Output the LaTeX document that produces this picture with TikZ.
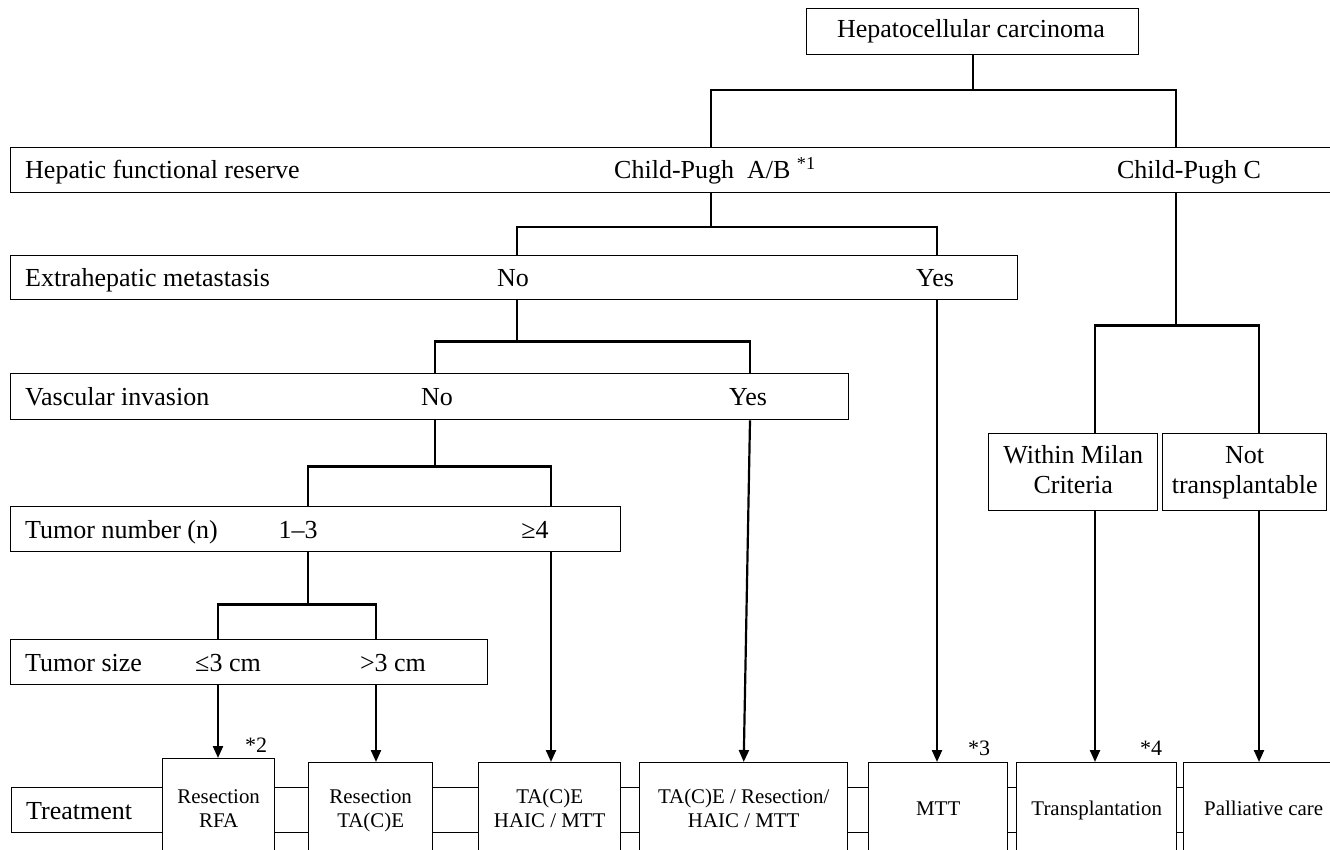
\documentclass[tikz,border=0pt]{standalone}
\usepackage{fontspec}
\setmainfont{Liberation Serif}
\usepackage{tikz}
\usetikzlibrary{arrows.meta, positioning}

\begin{document}
\begin{tikzpicture}[x=1pt, y=-1pt, >={Triangle[length=12pt, width=10pt]},
    rowbox/.style={draw, line width=1.4pt, inner sep=0pt, anchor=north west, fill=white},
    txbox/.style={rowbox, align=center, font=\fontsize{20.9}{24}\selectfont},
    rowtxt/.style={inner sep=0pt, font=\fontsize{26}{30}\selectfont},
    cuetxt/.style={inner sep=0pt, font=\fontsize{22}{26}\selectfont},
    branch/.style={line width=2.2pt}]
  \path[use as bounding box, clip] (0,0) rectangle (1330,850);

  % rows of the decision tree
  \node[rowbox, minimum width=332pt, minimum height=46pt] (hcc) at (806,8) {};
  \node[rowbox, minimum width=1326pt, minimum height=45pt] (hfr) at (10,147) {};
  \node[rowbox, minimum width=1007pt, minimum height=44pt] (ehm) at (10,255) {};
  \node[rowbox, minimum width=838pt, minimum height=46pt] (vi) at (10,373) {};
  \node[rowbox, minimum width=610pt, minimum height=45pt] (tn) at (10,506) {};
  \node[rowbox, minimum width=477pt, minimum height=45pt] (ts) at (10,639) {};
  \node[rowbox, minimum width=1240pt, minimum height=45pt] (trt) at (11,787) {};

  \node[rowtxt] (hccL) at (971,31) {Hepatocellular carcinoma};
  \node[rowtxt, anchor=base west] (hfrL) at (25,179) {Hepatic functional reserve};
  \node[rowtxt, anchor=base west] (cpab) at (614,179) {Child-Pugh~ A/B \textsuperscript{*1}};
  \node[rowtxt, anchor=base] (cpc) at (1189,179) {Child-Pugh C};
  \node[rowtxt, anchor=base west] (ehmL) at (25,286.5) {Extrahepatic metastasis};
  \node[rowtxt, anchor=base] (ehmNo) at (513,286.5) {No};
  \node[rowtxt, anchor=base] (ehmYes) at (935,286.5) {Yes};
  \node[rowtxt, anchor=base west] (viL) at (25,405.5) {Vascular invasion};
  \node[rowtxt, anchor=base] (viNo) at (437,405.5) {No};
  \node[rowtxt, anchor=base] (viYes) at (748,405.5) {Yes};
  \node[rowtxt, anchor=base west] (tnL) at (25,538) {Tumor number (n)};
  \node[rowtxt, anchor=base] (tnLow) at (298,538) {1–3};
  \node[rowtxt, anchor=base] (tnHigh) at (535,538) {≥4};
  \node[rowtxt, anchor=base west] (tsL) at (25,671) {Tumor size};
  \node[rowtxt, anchor=base] (tsSmall) at (228,671) {≤3 cm};
  \node[rowtxt, anchor=base] (tsLarge) at (393,671) {>3 cm};
  \node[rowtxt, anchor=base west] (trtL) at (26,819) {Treatment};

  % Child-Pugh C side
  \node[rowbox, minimum width=169pt, minimum height=77pt, align=center,
    font=\fontsize{26}{30}\selectfont] (milan) at (988,433) {Within Milan\strut\\Criteria\strut};
  \node[rowbox, minimum width=164pt, minimum height=77pt, align=center,
    font=\fontsize{26}{30}\selectfont] (notx) at (1162,433) {Not\strut\\transplantable\strut};

  % treatments
  \node[txbox, minimum width=112pt, minimum height=104pt] (rfa) at (162,758) {Resection\strut\\RFA\strut};
  \node[txbox, minimum width=124pt, minimum height=96pt] (rtace) at (308,762) {Resection\strut\\TA(C)E\strut};
  \node[txbox, minimum width=142pt, minimum height=96pt] (tace) at (478,762) {TA(C)E\strut\\HAIC / MTT\strut};
  \node[txbox, minimum width=208pt, minimum height=96pt] (mix) at (639,762) {TA(C)E / Resection/\strut\\HAIC / MTT\strut};
  \node[txbox, minimum width=139pt, minimum height=96pt] (mtt) at (868,762) {MTT\strut};
  \node[txbox, minimum width=160pt, minimum height=96pt] (tx) at (1016,762) {Transplantation\strut};
  \node[txbox, minimum width=160pt, minimum height=96pt] (pal) at (1183,762) {Palliative care\strut};

  \node[cuetxt] (n2) at (256,745) {*2};
  \node[cuetxt] (n3) at (979,748) {*3};
  \node[cuetxt] (n4) at (1151,748) {*4};

  % branch positions
  \coordinate (xab) at (711,0);
  \coordinate (xc) at (1176,0);
  \coordinate (xno1) at (517,0);
  \coordinate (xyes1) at (937,0);
  \coordinate (xno2) at (435,0);
  \coordinate (xyes2) at (750,0);
  \coordinate (xn13) at (308,0);
  \coordinate (xn4) at (551,0);
  \coordinate (xs3) at (218,0);
  \coordinate (xl3) at (376,0);
  \coordinate (xwm) at (1095,0);
  \coordinate (xnt) at (1259,0);

  % forks
  \draw[branch] (hcc.south) -- ++(0,35) coordinate (f1);
  \draw[branch] (xab |- hfr.north) |- (f1) -| (xc |- hfr.north);
  \draw[branch] (xab |- hfr.south) -- ++(0,34) coordinate (f2);
  \draw[branch] (xno1 |- ehm.north) |- (f2) -| (xyes1 |- ehm.north);
  \draw[branch] (xno1 |- ehm.south) -- ++(0,41) coordinate (f3);
  \draw[branch] (xno2 |- vi.north) |- (f3) -| (xyes2 |- vi.north);
  \draw[branch] (xno2 |- vi.south) -- ++(0,46) coordinate (f4);
  \draw[branch] (xn13 |- tn.north) |- (f4) -| (xn4 |- tn.north);
  \draw[branch] (xn13 |- tn.south) -- ++(0,52) coordinate (f5);
  \draw[branch] (xs3 |- ts.north) |- (f5) -| (xl3 |- ts.north);
  \draw[branch] (xc |- hfr.south) -- ++(0,132) coordinate (f6);
  \draw[branch] (xwm |- milan.north) |- (f6) -| (xnt |- notx.north);

  % arrows to treatments
  \draw[branch, ->] (xs3 |- ts.south) -- (xs3 |- rfa.north);
  \draw[branch, ->] (xl3 |- ts.south) -- (xl3 |- rtace.north);
  \draw[branch, ->] (xn4 |- tn.south) -- (xn4 |- tace.north);
  \draw[branch, ->] (xyes2 |- vi.south) -- (mix.north);
  \draw[branch, ->] (xyes1 |- ehm.south) -- (xyes1 |- mtt.north);
  \draw[branch, ->] (xwm |- milan.south) -- (xwm |- tx.north);
  \draw[branch, ->] (xnt |- notx.south) -- (xnt |- pal.north);
\end{tikzpicture}
\end{document}
